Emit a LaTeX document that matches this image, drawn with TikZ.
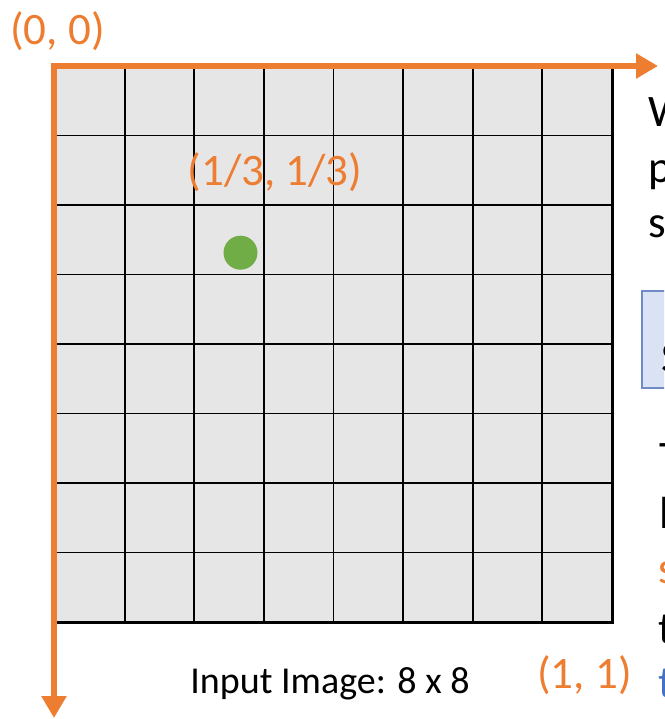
\documentclass[tikz,border=0pt]{standalone}
\usepackage{fontspec}
\setmainfont{Carlito}
\usetikzlibrary{arrows.meta, positioning}
\definecolor{axisorange}{HTML}{ED7D31}
\definecolor{dotgreen}{HTML}{70AD47}
\definecolor{cellgray}{HTML}{E7E6E6}
\definecolor{notefill}{HTML}{DAE3F3}
\definecolor{noteline}{HTML}{6F8BC8}
\definecolor{noteblue}{HTML}{4472C4}
\tikzset{
    axis/.style = {draw=axisorange, line width=6pt, line join=miter,
                   {Triangle[length=22pt,width=24pt]}-{Triangle[length=22pt,width=24pt]}},
    gridline/.style = {draw=black, line width=1.8pt},
    border/.style = {draw=black, line width=3pt},
    coordlabel/.style = {text=axisorange, font=\fontsize{45}{54}\selectfont, anchor=base, inner sep=0pt},
    caption/.style = {font=\fontsize{38}{46}\selectfont, anchor=base, inner sep=0pt},
    sidetext/.style = {font=\fontsize{45}{54}\selectfont, anchor=base west, inner sep=0pt},
    notebox/.style = {draw=noteline, fill=notefill, line width=1.5pt}
}

\begin{document}
\begin{tikzpicture}[x=1pt, y=-1pt]
        \useasboundingbox (0,0) rectangle (664,719);
        \clip (0,0) rectangle (664,719);

        % Input image grid
        \fill [cellgray] (55,66) rectangle (612,622);
        \foreach \i in {1,...,7} {
            \draw [gridline] ({55+69.625*\i},66) -- ({55+69.625*\i},622);
            \draw [gridline] (55,{66+69.5*\i}) -- (612,{66+69.5*\i});
        }
        \draw [border] (55,622) -- (612,622) -- (612,66);

        % Axes
        \coordinate (origin) at (54,66);
        \coordinate (xend) at (658,66);
        \coordinate (yend) at (54,718);
        \draw [axis] (xend) -- (origin) -- (yend);

        % Sample point
        \node [circle, fill=dotgreen, minimum size=34pt, inner sep=0pt] (sample) at (240.5,252.7) {};

        % Labels
        \node [coordlabel] (topleft) at (57.5,45) {(0, 0)};
        \node [coordlabel] (samplelabel) at (275,186) {(1/3, 1/3)};
        \node [coordlabel] (bottomright) at (584.5,688) {(1, 1)};
        \node [caption] (imgcaption) at (330,693) {Input Image: 8 x 8};

        % Cut-off text on the right
        \node [sidetext] (lineA) at (648,127) {W};
        \node [sidetext] (lineB) at (648,183) {p};
        \node [sidetext] (lineC) at (648,237) {s};
        \draw [notebox] (642,291) rectangle (700,388);
        \node [sidetext] (boxtext) at (661,372) {S};
        \node [sidetext] (lineD) at (659,472) {T};
        \node [sidetext] (lineE) at (659,528) {l};
        \node [sidetext, text=axisorange] (lineF) at (658,583) {s};
        \node [sidetext] (lineG) at (658,643) {t};
        \node [sidetext, text=noteblue] (lineH) at (658,697) {t};

    \end{tikzpicture}
\end{document}
